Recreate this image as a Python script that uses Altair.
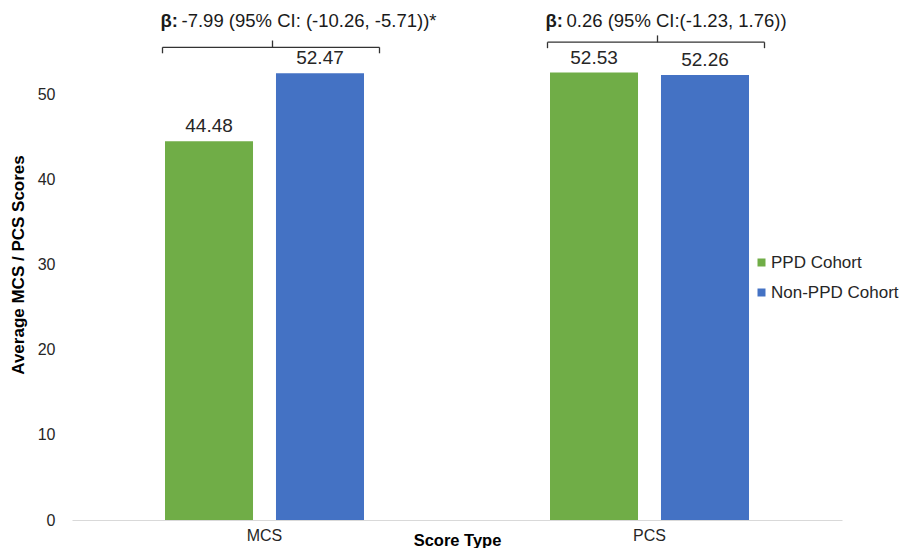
import altair as alt
import pandas as pd

# ---- data ----
score_types = ["MCS", "MCS", "PCS", "PCS"]
cohorts = ["PPD Cohort", "Non-PPD Cohort", "PPD Cohort", "Non-PPD Cohort"]
scores = [44.48, 52.47, 52.53, 52.26]

ann_types = ["MCS", "PCS"]
ann_beta = ["β:", "β:"]
ann_text = ["-7.99 (95% CI: (-10.26, -5.71))*", "0.26 (95% CI:(-1.23, 1.76))"]
bracket_level = [55.5, 56.1]
label_level = [58.6, 58.6]

cohort_order = ["PPD Cohort", "Non-PPD Cohort"]
colors = ["#70AD47", "#4472C4"]
FONT = "Liberation Sans"

bars_df = pd.DataFrame({"type": score_types, "cohort": cohorts, "score": scores})
ann_df = pd.DataFrame({
    "type": ann_types,
    "beta": ann_beta,
    "text": ann_text,
    "lvl": bracket_level,
    "lvl_lo": [v - 0.7 for v in bracket_level],
    "lvl_hi": [v + 0.8 for v in bracket_level],
    "lab": label_level,
})

x_enc = alt.X(
    "type:N",
    scale=alt.Scale(domain=["MCS", "PCS"], paddingInner=0, paddingOuter=0),
    axis=alt.Axis(
        title="Score Type", labelAngle=0, ticks=False, labelPadding=7,
        labelFontSize=16, labelColor="#262626", labelFont=FONT,
        titleFont=FONT, titleFontSize=16.5, titleFontWeight="bold", titleColor="#000000",
        titlePadding=-11, domainColor="#d9d9d9", domainWidth=1.2, grid=False,
    ),
)
xoff_enc = alt.XOffset(
    "cohort:N",
    scale=alt.Scale(domain=cohort_order, paddingInner=0.207, paddingOuter=0.838),
)
y_scale = alt.Scale(domain=[0, 60], nice=False)
y_enc = alt.Y(
    "score:Q",
    scale=y_scale,
    axis=alt.Axis(
        title="Average MCS / PCS Scores", values=[0, 10, 20, 30, 40, 50],
        domain=False, ticks=False, grid=False, labelPadding=17,
        labelFontSize=16, labelColor="#262626", labelFont=FONT,
        titleFont=FONT, titleFontSize=17, titleFontWeight="bold", titleColor="#000000",
        titlePadding=10,
    ),
)

bars = alt.Chart(bars_df).mark_bar().encode(
    x=x_enc,
    xOffset=xoff_enc,
    y=y_enc,
    color=alt.Color(
        "cohort:N",
        scale=alt.Scale(domain=cohort_order, range=colors),
        legend=alt.Legend(
            title=None, orient="none", legendX=681, legendY=245,
            symbolType="square", symbolSize=64, symbolStrokeWidth=0,
            labelFontSize=17, labelFont=FONT, labelColor="#262626",
            labelOffset=1, rowPadding=12,
        ),
    ),
)

values = alt.Chart(bars_df).mark_text(
    dy=-15, fontSize=19, font=FONT, color="#262626", baseline="middle"
).encode(
    x=alt.X("type:N"),
    xOffset=xoff_enc,
    y=alt.Y("score:Q"),
    text=alt.Text("score:Q", format=".2f"),
)

bracket_h = alt.Chart(ann_df).mark_rule(
    color="#333333", strokeWidth=1.3, xOffset=-102, x2Offset=115
).encode(x=alt.X("type:N"), x2=alt.X2("type:N"), y=alt.Y("lvl:Q"))

bracket_l = alt.Chart(ann_df).mark_rule(
    color="#333333", strokeWidth=1.3, xOffset=-102
).encode(x=alt.X("type:N"), y=alt.Y("lvl:Q"), y2=alt.Y2("lvl_lo:Q"))

bracket_r = alt.Chart(ann_df).mark_rule(
    color="#333333", strokeWidth=1.3, xOffset=115
).encode(x=alt.X("type:N"), y=alt.Y("lvl:Q"), y2=alt.Y2("lvl_lo:Q"))

bracket_c = alt.Chart(ann_df).mark_rule(
    color="#333333", strokeWidth=1.3, xOffset=8
).encode(x=alt.X("type:N"), y=alt.Y("lvl:Q"), y2=alt.Y2("lvl_hi:Q"))

beta_txt = alt.Chart(ann_df).mark_text(
    align="left", baseline="middle", dx=-104, fontSize=18.5, fontWeight="bold",
    font=FONT, color="#1a1a1a"
).encode(x=alt.X("type:N"), y=alt.Y("lab:Q"), text="beta:N")

rest_txt = alt.Chart(ann_df).mark_text(
    align="left", baseline="middle", dx=-83, fontSize=18.5,
    font=FONT, color="#1a1a1a"
).encode(x=alt.X("type:N"), y=alt.Y("lab:Q"), text="text:N")

chart = alt.layer(
    bars, values, bracket_h, bracket_l, bracket_r, bracket_c, beta_txt, rest_txt
).properties(
    width=770, height=511,
    padding={"left": 64, "top": 1, "right": 63, "bottom": 28},
    autosize=alt.AutoSizeParams(type="none"),
    background="white",
).configure_view(stroke=None)

chart.save("out.html", embed_options={"renderer": "svg", "actions": False})
